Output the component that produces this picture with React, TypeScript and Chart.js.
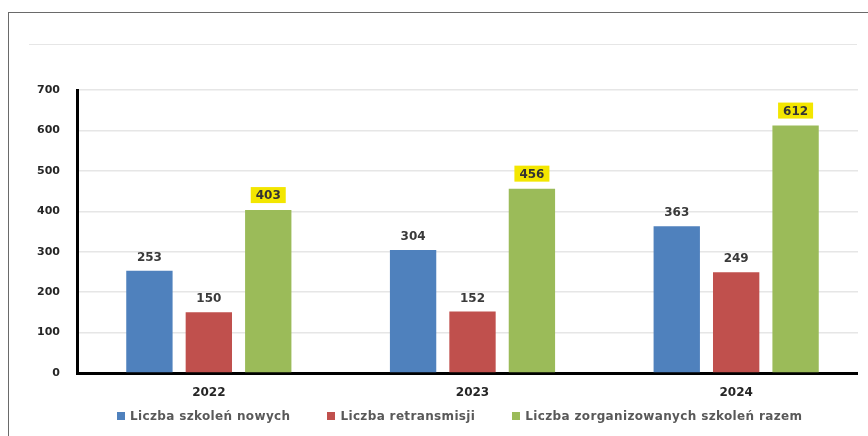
import React, { useEffect, useRef } from "react";
import { Chart, registerables } from "chart.js";

Chart.register(...registerables);

const categories = ["2022", "2023", "2024"];
const seriesLabels = [
  "Liczba szkoleń nowych",
  "Liczba retransmisji",
  "Liczba zorganizowanych szkoleń razem",
];
const newTrainings = [253, 304, 363];
const retransmissions = [150, 152, 249];
const totalTrainings = [403, 456, 612];
const seriesColors = ["#4f81bd", "#c0504d", "#9bbb59"];
const yMin = 0;
const yMax = 700;
const yStep = 100;

const FONT = "'DejaVu Sans', sans-serif";

const valueLabels = {
  id: "valueLabels",
  afterDatasetsDraw(chart: any) {
    const ctx = chart.ctx;
    ctx.save();
    ctx.font = `bold 12px ${FONT}`;
    ctx.textAlign = "center";
    ctx.textBaseline = "middle";
    chart.data.datasets.forEach((ds: any, i: number) => {
      const meta = chart.getDatasetMeta(i);
      meta.data.forEach((bar: any, j: number) => {
        const v = ds.data[j];
        const text = String(v);
        if (i === 2) {
          const w = 35;
          const h = 16;
          const bottom = bar.y - 7;
          ctx.fillStyle = "#f3e600";
          ctx.fillRect(bar.x - w / 2, bottom - h, w, h);
          ctx.fillStyle = "#333333";
          ctx.fillText(text, bar.x, bottom - h / 2 + 1);
        } else {
          ctx.fillStyle = "#3a3a3a";
          ctx.fillText(text, bar.x, bar.y - 13);
        }
      });
    });
    ctx.restore();
  },
};

export default function App() {
  const ref = useRef<HTMLCanvasElement | null>(null);

  useEffect(() => {
    if (!ref.current) return;
    const seriesData = [newTrainings, retransmissions, totalTrainings];
    const chart = new Chart(ref.current, {
      type: "bar",
      data: {
        labels: categories,
        datasets: seriesData.map((d, i) => ({
          label: seriesLabels[i],
          data: d,
          backgroundColor: seriesColors[i],
          borderWidth: 0,
          categoryPercentage: 0.676,
          barPercentage: 0.78,
        })),
      },
      options: {
        responsive: false,
        animation: false,
        events: [],
        layout: { padding: { top: 90, right: 0, bottom: 0, left: 0 } },
        plugins: {
          legend: { display: false },
          tooltip: { enabled: false },
          title: { display: false },
        },
        scales: {
          x: {
            afterFit: (s: any) => {
              s.height = 63;
            },
            grid: { display: false, drawTicks: false },
            border: { display: true, color: "#000000", width: 3 },
            ticks: {
              padding: 13,
              color: "#262626",
              font: { family: FONT, size: 12, weight: "bold" },
            },
          },
          y: {
            min: yMin,
            max: yMax,
            afterFit: (s: any) => {
              s.width = 77;
            },
            grid: { color: "#e6e6e6", lineWidth: 1.5, drawTicks: false },
            border: { display: true, color: "#000000", width: 3 },
            ticks: {
              stepSize: yStep,
              padding: 17,
              color: "#262626",
              font: { family: FONT, size: 11, weight: "bold" },
            },
          },
        },
      },
      plugins: [valueLabels],
    });
    return () => chart.destroy();
  }, []);

  return (
    <div
      style={{
        position: "fixed",
        left: 0,
        top: 0,
        width: 868,
        height: 436,
        background: "#ffffff",
        overflow: "hidden",
      }}
    >
      <div
        style={{
          position: "absolute",
          left: 8,
          top: 12,
          width: 868,
          height: 440,
          borderLeft: "1.5px solid #6a6a6a",
          borderTop: "1.5px solid #6a6a6a",
        }}
      />
      <div
        style={{
          position: "absolute",
          left: 29,
          top: 44,
          width: 828,
          height: 0,
          borderTop: "1.5px solid #e6e6e6",
        }}
      />
      <canvas
        ref={ref}
        width={868}
        height={436}
        style={{ position: "absolute", left: 0, top: 0, display: "block" }}
      />
      <div
        style={{
          position: "absolute",
          left: 858,
          top: 40,
          width: 10,
          height: 345,
          background: "#ffffff",
        }}
      />
      <div
        style={{
          position: "absolute",
          left: 117,
          top: 409,
          display: "flex",
          alignItems: "center",
          fontFamily: FONT,
          fontWeight: "bold",
          fontSize: 12,
          letterSpacing: "0.35px",
          color: "#595959",
          whiteSpace: "nowrap",
        }}
      >
        {seriesLabels.map((lab, i) => (
          <div
            key={lab}
            style={{
              display: "flex",
              alignItems: "center",
              marginRight: i < seriesLabels.length - 1 ? 37 : 0,
            }}
          >
            <span
              style={{
                display: "inline-block",
                width: 8,
                height: 8,
                background: seriesColors[i],
                marginRight: 5,
              }}
            />
            <span>{lab}</span>
          </div>
        ))}
      </div>
    </div>
  );
}
